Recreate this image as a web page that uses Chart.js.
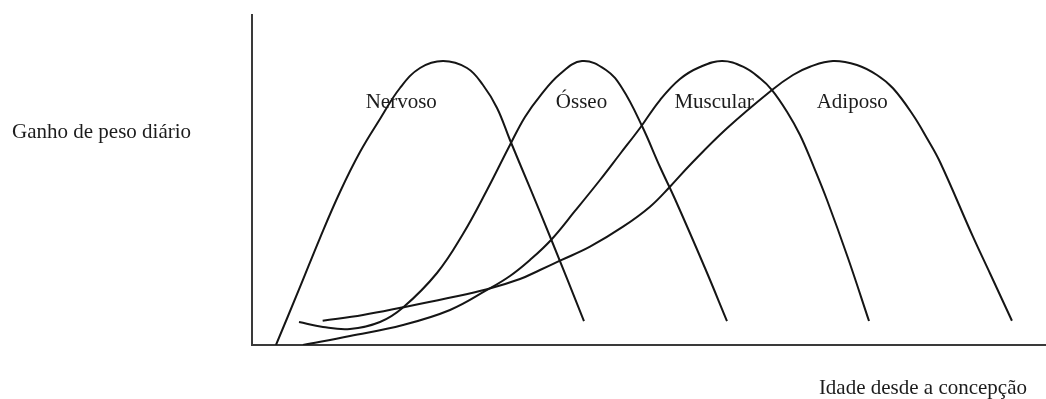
<!DOCTYPE html>
<html>
<head>
<meta charset="utf-8">
<script src="https://cdn.jsdelivr.net/npm/chart.js@4"></script>
<style>
  body { margin: 0; background: #fff; }
  #wrap { width: 1046px; height: 399px; }
</style>
</head>
<body>
<div id="wrap"><canvas id="growth" width="1046" height="399"></canvas></div>
<script>
// tissue names and where their labels sit (same units as the axes)
const tissues = ["Nervoso", "Ósseo", "Muscular", "Adiposo"];
const labelX = [18.8, 41.5, 58.2, 75.6];
const labelY = 71.8;

const yTitle = "Ganho de peso diário";
const xTitle = "Idade desde a concepção";

// curves (x = age, y = daily gain, both 0..100)
const nervosoX = [3.02, 6.05, 8.56, 11.08, 13.60, 16.12, 18.64, 21.16, 24.06, 27.08, 29.09, 30.86, 32.49, 35.01, 37.66, 41.81];
const nervosoY = [0, 17.58, 32.42, 46.36, 58.48, 68.48, 77.88, 83.94, 86.06, 83.94, 78.79, 71.82, 62.12, 47.58, 32.12, 7.27];

const osseoX = [5.92, 8.94, 12.34, 16.12, 19.02, 23.30, 26.57, 29.60, 32.49, 34.38, 36.27, 38.79, 41.56, 44.58, 46.60, 49.12, 51.39, 53.27, 57.05, 59.82];
const osseoY = [6.97, 5.45, 4.85, 6.97, 11.36, 21.82, 33.64, 46.97, 60.61, 69.09, 75.45, 82.12, 86.06, 83.33, 77.88, 66.36, 53.94, 44.24, 23.33, 7.27];

const muscularX = [6.42, 12.34, 19.02, 24.94, 29.60, 32.49, 35.01, 37.66, 40.68, 43.83, 46.35, 48.87, 51.39, 53.90, 56.42, 59.19, 61.84, 63.98, 65.49, 67.38, 69.02, 70.65, 72.42, 75.06, 77.71];
const muscularY = [0, 2.73, 6.06, 10.61, 16.67, 20.91, 25.76, 31.82, 40.61, 50.0, 57.88, 65.76, 74.24, 80.61, 84.24, 86.06, 84.33, 80.82, 77.27, 70.70, 63.64, 54.55, 43.94, 26.36, 7.27];

const adiposoX = [8.90, 13.98, 19.02, 24.56, 29.60, 33.75, 36.27, 38.79, 42.57, 46.73, 50.13, 52.64, 55.16, 59.82, 65.49, 68.13, 70.27, 73.17, 76.19, 78.71, 80.73, 83.25, 85.01, 86.65, 90.80, 92.94, 95.71];
const adiposoY = [7.36, 9.09, 11.42, 14.15, 16.88, 20.0, 22.73, 25.55, 29.79, 35.85, 41.91, 47.97, 54.55, 65.67, 77.27, 81.82, 84.33, 86.06, 84.85, 81.82, 77.79, 69.70, 62.64, 55.45, 32.82, 21.73, 7.36];

const seriesX = [nervosoX, osseoX, muscularX, adiposoX];
const seriesY = [nervosoY, osseoY, muscularY, adiposoY];

const serif = '"Liberation Serif", "Times New Roman", serif';

// text on the picture: curve names and the two axis titles
const textPlugin = {
  id: "curveText",
  afterDatasetsDraw(chart) {
    const ctx = chart.ctx;
    const x = chart.scales.x;
    const y = chart.scales.y;
    ctx.save();
    ctx.font = "21px " + serif;
    ctx.fillStyle = "#1c1c1c";
    ctx.textBaseline = "alphabetic";
    ctx.textAlign = "center";
    tissues.forEach((name, i) => {
      ctx.fillText(name, x.getPixelForValue(labelX[i]), y.getPixelForValue(labelY));
    });
    ctx.textAlign = "left";
    ctx.fillText(yTitle, 12, 138);
    ctx.textAlign = "right";
    ctx.fillText(xTitle, 1027, 394);
    ctx.restore();
  }
};

const datasets = tissues.map((name, i) => ({
  label: name,
  data: seriesX[i].map((v, j) => ({ x: v, y: seriesY[i][j] })),
  borderColor: "#151515",
  borderWidth: 2,
  pointRadius: 0,
  fill: false,
  tension: 0.4
}));

new Chart(document.getElementById("growth"), {
  type: "line",
  data: { datasets: datasets },
  options: {
    responsive: false,
    animation: false,
    events: [],
    layout: { padding: { left: 252, top: 15, right: 0, bottom: 54 } },
    plugins: { legend: { display: false }, tooltip: { enabled: false } },
    scales: {
      x: {
        type: "linear", min: 0, max: 100,
        ticks: { display: false },
        grid: { display: false, drawTicks: false },
        border: { display: true, color: "#3a3a3a", width: 2 }
      },
      y: {
        min: 0, max: 100,
        ticks: { display: false },
        grid: { display: false, drawTicks: false },
        border: { display: true, color: "#3a3a3a", width: 2 }
      }
    }
  },
  plugins: [textPlugin]
});
</script>
</body>
</html>
